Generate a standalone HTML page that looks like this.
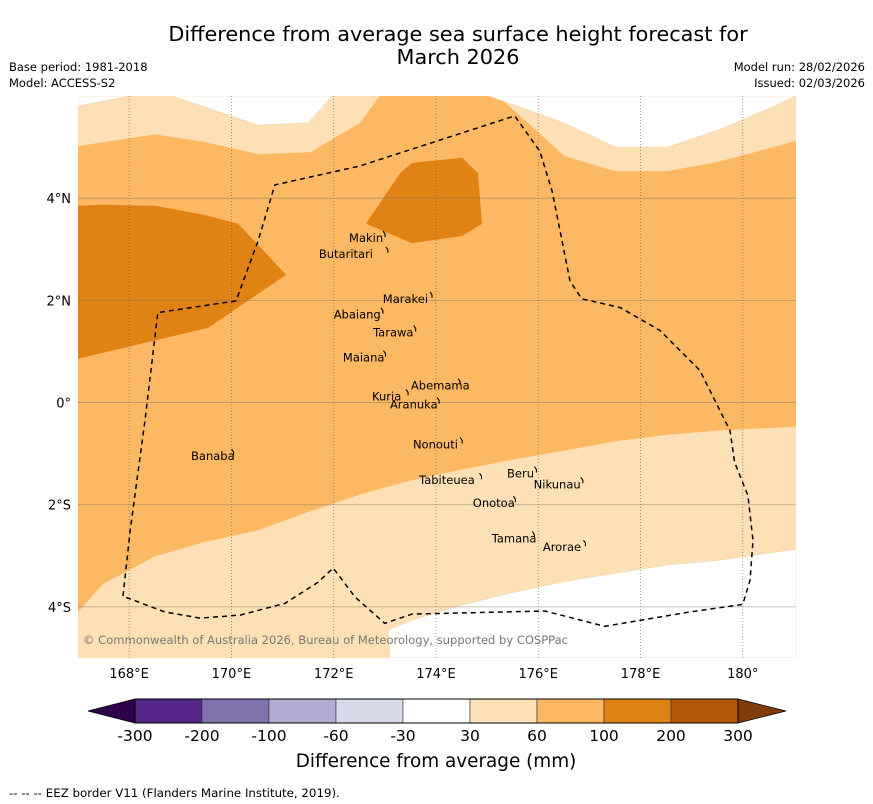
<!DOCTYPE html>
<html><head><meta charset="utf-8"><style>
html,body{margin:0;padding:0;background:#fff;}
svg{display:block;font-family:"DejaVu Sans","Liberation Sans",sans-serif;}
</style></head><body>
<svg id="chart" xmlns="http://www.w3.org/2000/svg" width="873" height="804" viewBox="0 0 873 804">
<text x="458" y="41" font-size="20.8" text-anchor="middle">Difference from average sea surface height forecast for</text>
<text x="458" y="64" font-size="20.8" text-anchor="middle">March 2026</text>
<text x="9" y="71" font-size="11.5">Base period: 1981-2018</text>
<text x="9" y="87" font-size="11.5">Model: ACCESS-S2</text>
<text x="865" y="71" font-size="11.5" text-anchor="end">Model run: 28/02/2026</text>
<text x="865" y="87" font-size="11.5" text-anchor="end">Issued: 02/03/2026</text>
<defs><clipPath id="mapclip"><rect x="78" y="96" width="718" height="562"/></clipPath></defs>
<g id="map" clip-path="url(#mapclip)"></g>
<g id="axes"></g>
<g id="cbar"></g>
<text x="436" y="767" font-size="18.4" text-anchor="middle">Difference from average (mm)</text>
<text x="9" y="797" font-size="11.8">--  --  -- EEZ border V11 (Flanders Marine Institute, 2019).</text>
</svg>
<script>
// Map extent
const lonMin = 167, lonMax = 181.04, latMin = -5, latMax = 6;
const lonTicks = [168, 170, 172, 174, 176, 178, 180];
const lonTickLabels = ["168°E", "170°E", "172°E", "174°E", "176°E", "178°E", "180°"];
const latTicks = [4, 2, 0, -2, -4];
const latTickLabels = ["4°N", "2°N", "0°", "2°S", "4°S"];
// Contour regions [lon, lat]
const lightTopLeft = [[167,6],[172.9,6],[172.51,5.47],[171.54,4.9],[170.52,4.86],[169.48,5.1],[168.51,5.25],[167,5.02]];
const whiteTopLeftA = [[167,6],[167,5.8],[168.02,6]];
const whiteTopLeftB = [[168.84,6],[170.52,5.43],[171.5,5.47],[171.97,6]];
const lightTopRight = [[175.21,6],[181.04,6],[181.04,5.12],[179.51,4.71],[178.53,4.53],[177.5,4.53],[176.52,4.82]];
const whiteTopRight = [[175.03,6],[176.52,5.47],[177.5,5.0],[178.53,5.0],[179.51,5.33],[180.53,5.76],[181.04,6]];
const darkWest = [[167,3.85],[167.43,3.87],[168.51,3.85],[169.48,3.67],[170.13,3.5],[171.07,2.5],[169.54,1.46],[167,0.86]];
const darkCentre = [[172.63,3.5],[173.3,4.49],[173.53,4.69],[174.51,4.79],[174.82,4.49],[174.9,3.5],[174.51,3.26],[173.53,3.12]];
const lightSouth = [[167,-4.1],[167.49,-3.55],[168.51,-3.01],[169.48,-2.73],[170.52,-2.5],[171.54,-2.13],[172.51,-1.8],[173.53,-1.52],[174.51,-1.31],[175.54,-1.11],[176.52,-0.94],[177.5,-0.76],[178.53,-0.63],[179.51,-0.55],[181.04,-0.47],[181.04,-5],[167,-5]];
const whiteSouth = [[173.1,-5],[173.06,-4.45],[173.53,-4.26],[174.51,-3.96],[175.54,-3.71],[176.52,-3.5],[177.5,-3.34],[178.53,-3.18],[179.51,-3.09],[181.04,-2.87],[181.04,-5]];
const eez = [[167.88,-3.79],[168.02,-2.5],[168.31,-0.35],[168.56,1.76],[170.09,1.99],[170.52,3.16],[170.85,4.26],[172.51,4.63],[175.54,5.61],[176.03,4.92],[176.27,4.14],[176.62,2.38],[176.85,2.03],[177.6,1.86],[178.38,1.41],[179.16,0.63],[179.75,-0.55],[179.84,-1.17],[180.1,-1.82],[180.2,-2.7],[180.14,-3.48],[180.0,-3.95],[178.96,-4.1],[177.3,-4.38],[176.13,-4.08],[173.53,-4.14],[173.0,-4.32],[172.42,-3.81],[171.99,-3.24],[171.69,-3.52],[171.05,-3.93],[170.17,-4.16],[169.39,-4.22],[168.7,-4.1],[167.88,-3.79]];
const islandNames = ["Makin","Butaritari","Marakei","Abaiang","Tarawa","Maiana","Abemama","Kuria","Aranuka","Nonouti","Banaba","Tabiteuea","Beru","Nikunau","Onotoa","Tamana","Arorae"];
const islandLon = [172.3,171.71,172.96,172.0,172.77,172.18,173.51,172.75,173.1,173.55,169.21,173.67,175.39,175.91,174.72,175.09,176.09];
const islandLat = [3.22,2.91,2.03,1.72,1.37,0.88,0.33,0.12,-0.04,-0.82,-1.05,-1.52,-1.39,-1.6,-1.97,-2.66,-2.83];
// Colorbar
const cbarLevels = ["-300","-200","-100","-60","-30","30","60","100","200","300"];
const cbarColors = ["#542788","#8073ac","#b2abd2","#d8daeb","#ffffff","#fee0b6","#fdb863","#e08214","#b35806"];
const cbarUnder = "#2d004b", cbarOver = "#7f3b08";

const NS = "http://www.w3.org/2000/svg";
const X0 = 78, X1 = 796, Y0 = 96, Y1 = 658;
function xs(lon){ return X0 + (lon - lonMin) / (lonMax - lonMin) * (X1 - X0); }
function ys(lat){ return Y0 + (latMax - lat) / (latMax - latMin) * (Y1 - Y0); }
function mk(tag, attrs, parent){ const e = document.createElementNS(NS, tag); for (const k in attrs) e.setAttribute(k, attrs[k]); parent.appendChild(e); return e; }
function pts(arr){ return arr.map(p => xs(p[0]).toFixed(1) + "," + ys(p[1]).toFixed(1)).join(" "); }

const map = document.getElementById("map");
let bg = mk("rect", {x:X0, y:Y0, width:X1-X0, height:Y1-Y0, fill:"#fdb863"}, map);


const regions = [
  [lightTopLeft, "#fee0b6", "contour-30-60-north-west"],
  [whiteTopLeftA, "#ffffff", "contour-below-30-north-west-a"],
  [whiteTopLeftB, "#ffffff", "contour-below-30-north-west-b"],
  [lightTopRight, "#fee0b6", "contour-30-60-north-east"],
  [whiteTopRight, "#ffffff", "contour-below-30-north-east"],
  [darkWest, "#e08214", "contour-100-200-west"],
  [darkCentre, "#e08214", "contour-100-200-centre"],
  [lightSouth, "#fee0b6", "contour-30-60-south"],
  [whiteSouth, "#ffffff", "contour-below-30-south"]
];
regions.forEach(r => {
  const p = mk("polygon", {points: pts(r[0]), fill: r[1], stroke: r[1] === "#ffffff" ? "#f2d3ad" : "none", "stroke-width": 0.6}, map);
  
  
});
// grid
lonTicks.forEach(v => {
  const l = mk("line", {x1: xs(v), x2: xs(v), y1: Y0, y2: Y1, stroke: "#555", "stroke-width": 0.8, "stroke-dasharray": "1,2", opacity: 0.7}, map);
  
  
});
latTicks.forEach(v => {
  const l = mk("line", {x1: X0, x2: X1, y1: ys(v), y2: ys(v), stroke: "#8a7a66", "stroke-width": 0.8, opacity: 0.6}, map);
  
  
});
// EEZ
const ez = mk("polyline", {points: pts(eez), fill: "none", stroke: "#000", "stroke-width": 1.5, "stroke-dasharray": "5,4"}, map);


// islands
islandNames.forEach((n, i) => {
  const x = xs(islandLon[i]), y = ys(islandLat[i]);
  const t = mk("text", {x: x, y: y + 4, "font-size": 11.5, fill: "#000"}, map);
  t.textContent = n;
  
  
  const w = n.length * 6.6;
  const m = mk("path", {d: "M" + (x + w + 1) + "," + (y - 7) + " l2,3 l0,3", fill: "none", stroke: "#000", "stroke-width": 1.1}, map);
  
  
});
const cr = mk("text", {x: 83, y: 644, "font-size": 11.6, fill: "#777", textLength: 485, lengthAdjust: "spacingAndGlyphs"}, map);
cr.textContent = "© Commonwealth of Australia 2026, Bureau of Meteorology, supported by COSPPac";



// axes labels
const axes = document.getElementById("axes");
lonTicks.forEach((v, i) => {
  const t = mk("text", {x: xs(v), y: 678, "font-size": 13, "text-anchor": "middle"}, axes);
  t.textContent = lonTickLabels[i];
  
  
});
latTicks.forEach((v, i) => {
  const t = mk("text", {x: 71, y: ys(v) + 5, "font-size": 13, "text-anchor": "end"}, axes);
  t.textContent = latTickLabels[i];
  
  
});

// colorbar
const cb = document.getElementById("cbar");
const CB0 = 135, CB1 = 738, CBy = 699, CBh = 24;
const segW = (CB1 - CB0) / cbarColors.length;
const ul = mk("polygon", {points: `88,${CBy + CBh/2} ${CB0},${CBy} ${CB0},${CBy + CBh}`, fill: cbarUnder, stroke: "#000", "stroke-width": 0.8}, cb);


const ol = mk("polygon", {points: `786,${CBy + CBh/2} ${CB1},${CBy} ${CB1},${CBy + CBh}`, fill: cbarOver, stroke: "#000", "stroke-width": 0.8}, cb);


cbarColors.forEach((c, i) => {
  const r = mk("rect", {x: CB0 + i * segW, y: CBy, width: segW, height: CBh, fill: c, stroke: "#333", "stroke-width": 0.6}, cb);
  
  
});
const ob = mk("rect", {x: CB0, y: CBy, width: CB1 - CB0, height: CBh, fill: "none", stroke: "#000", "stroke-width": 1}, cb);


cbarLevels.forEach((l, i) => {
  const t = mk("text", {x: CB0 + i * segW, y: 741, "font-size": 15.5, "text-anchor": "middle"}, cb);
  t.textContent = l;
  
  
});
</script>
</body></html>
